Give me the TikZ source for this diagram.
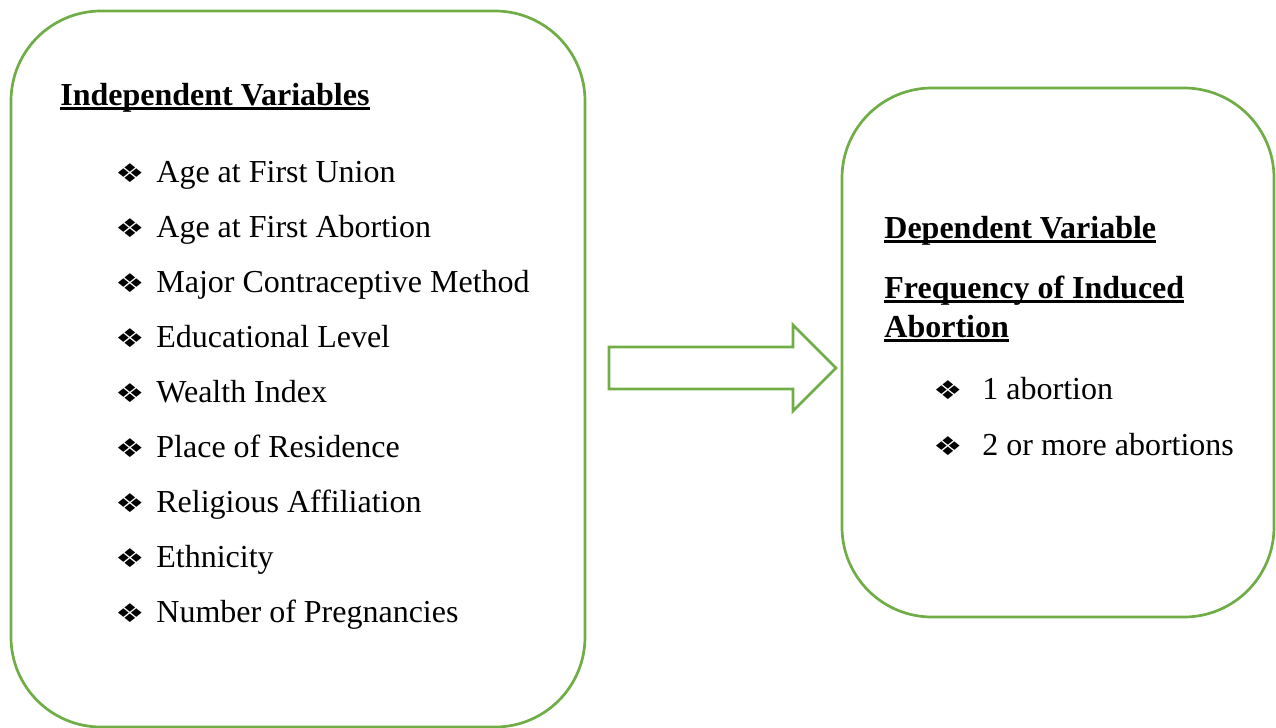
\documentclass[tikz,border=0pt]{standalone}
\usepackage{fontspec}
\setmainfont{Liberation Serif}
\newfontfamily\symfont{DejaVu Sans}
\newcommand{\thickul}[1]{\setbox0=\hbox{#1}\dimen0=\wd0\box0\hskip-\dimen0\vrule width\dimen0 height -1.1pt depth 2.3pt}
\definecolor{boxgreen}{HTML}{70AD47}
\tikzset{
  varbox/.style={draw=boxgreen, line width=1.35pt, rounded corners=45pt},
  heading/.style={anchor=base west, inner sep=0pt, font=\fontsize{16}{19.5}\selectfont\bfseries},
  item/.style={anchor=base west, inner sep=0pt, font=\fontsize{16}{19.5}\selectfont},
  bullet/.style={anchor=base west, inner sep=0pt, font=\symfont\fontsize{18}{18}\selectfont},
}
\newcommand{\bul}{\scalebox{0.9}[0.72]{❖}}
\begin{document}
\begin{tikzpicture}[x=0.5pt, y=-0.5pt, line join=round]
  \useasboundingbox (0,0) rectangle (1276,728);
  % the two boxes
  \draw[varbox] (11,11) rectangle (585,727);
  \draw[varbox] (842,88) rectangle (1274,617);
  % block arrow between them
  \draw[boxgreen, line width=1.35pt, line join=miter]
    (609,347)--(793,347)--(793,325)--(836,368)--(793,411)--(793,389)--(609,389)--cycle;
  % independent variables
  \node[heading] (indep) at (60,105) {\thickul{Independent Variables}};
  \foreach \txt [count=\i from 0] in {Age at First Union, Age at First Abortion,
      Major Contraceptive Method, Educational Level, Wealth Index,
      Place of Residence, Religious Affiliation, Ethnicity, Number of Pregnancies}{
    \node[bullet] (b\i) at (115,{182+55.1*\i}) {\bul};
    \node[item] (v\i) at (156,{182+55.1*\i}) {\txt};
  }
  % dependent variable
  \node[heading] (dep) at (884,238) {\thickul{Dependent Variable}};
  \node[heading] (freq) at (884,298) {\thickul{Frequency of Induced}};
  \node[heading] (abort) at (884,337) {\thickul{Abortion}};
  \foreach \txt [count=\i from 0] in {1 abortion, 2 or more abortions}{
    \node[bullet] (db\i) at (933,{399+56*\i}) {\bul};
    \node[item] (d\i) at (982,{399+56*\i}) {\txt};
  }
\end{tikzpicture}
\end{document}
